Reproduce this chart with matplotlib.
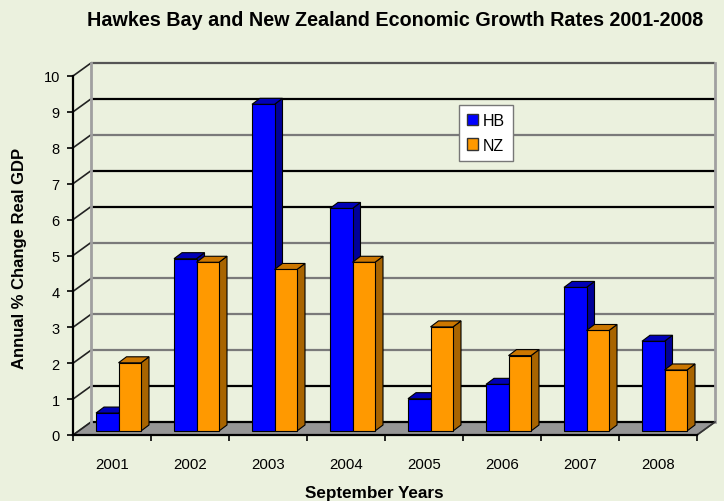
import matplotlib
matplotlib.use('Agg')
import matplotlib.pyplot as plt
from matplotlib.patches import Polygon, Patch
import numpy as np

# ------------------- DATA -------------------
years = ['2001', '2002', '2003', '2004', '2005', '2006', '2007', '2008']
hb = [0.5, 4.8, 9.1, 6.2, 0.9, 1.3, 4.0, 2.5]
nz = [1.9, 4.7, 4.5, 4.7, 2.9, 2.1, 2.8, 1.7]
yticks = list(range(0, 11))

# ------------------- STYLE -------------------
bg = '#EBF1DE'
face = {'HB': '#0000FF', 'NZ': '#FF9900'}
side = {'HB': '#000099', 'NZ': '#A86400'}
top = {'HB': '#0000B8', 'NZ': '#CC7700'}
grid_col = ['#000000', '#000000', '#7a7a7a', '#7a7a7a', '#7a7a7a', '#7a7a7a',
            '#000000', '#000000', '#7a7a7a', '#000000', '#555555']

plt.rcParams['font.family'] = ['Liberation Sans', 'DejaVu Sans']

W, H = 724, 502
fig = plt.figure(figsize=(W / 100, H / 100), dpi=100, facecolor=bg)
# front plane of the chart, pixel box of the value axis
x0, x1, yb, yt = 73, 697, 436, 77
ax = fig.add_axes([x0 / W, (H - yb) / H, (x1 - x0) / W, (yb - yt) / H])
ax.set_facecolor('none')
n = len(years)
ax.set_xlim(-0.5, n - 0.5)
ax.set_ylim(0, 10)

px_x = (x1 - x0) / n        # pixels per category
px_y = (yb - yt) / 10.0     # pixels per unit

# depth of the floor/walls and of each bar, in data units
DX, DY = 18 / px_x, 13 / px_y
bdx, bdy = 8 / px_x, 6 / px_y
base = 4 / px_y
shift = 6.5 / px_x
w = 22.5 / px_x

# floor
floor = Polygon([(-0.5, 0), (n - 0.5, 0), (n - 0.5 + DX, DY), (-0.5 + DX, DY)],
                closed=True, facecolor='#969696', edgecolor='#555555', lw=1,
                clip_on=False, zorder=1)
ax.add_patch(floor)

# back wall gridlines and left wall diagonals
for v in yticks:
    ax.plot([-0.5 + DX, n - 0.5 + DX], [v + DY, v + DY], color=grid_col[v],
            lw=1.6, clip_on=False, zorder=2, solid_capstyle='butt')
    ax.plot([-0.5, -0.5 + DX], [v, v + DY], color='#222222', lw=1.2,
            clip_on=False, zorder=2)
ax.plot([-0.5 + DX, -0.5 + DX], [DY, 10 + DY], color='#a0a0a0', lw=2,
        clip_on=False, zorder=2)
ax.plot([n - 0.5 + DX, n - 0.5 + DX], [DY, 10 + DY], color='#a0a0a0', lw=2,
        clip_on=False, zorder=2)
ax.plot([n - 0.5, n - 0.5 + DX], [0, DY], color='#333333', lw=1.2,
        clip_on=False, zorder=2)

# bars: front faces via ax.bar, then side and top faces
hb_bars = ax.bar(np.arange(n) + shift - w, hb, width=w, bottom=base, align='edge',
                 color=face['HB'], edgecolor='black', lw=0.8, label='HB')
nz_bars = ax.bar(np.arange(n) + shift, nz, width=w, bottom=base, align='edge',
                 color=face['NZ'], edgecolor='black', lw=0.8, label='NZ')

for i in range(n):
    for k, (name, bars, vals) in enumerate([('HB', hb_bars, hb), ('NZ', nz_bars, nz)]):
        z = 3 + i * 4 + k * 2
        r = bars[i]
        xl = r.get_x()
        xr = xl + r.get_width()
        yl = base
        yh = base + vals[i]
        r.set_zorder(z + 1)
        s = Polygon([(xr, yl), (xr + bdx, yl + bdy), (xr + bdx, yh + bdy), (xr, yh)],
                    closed=True, facecolor=side[name], edgecolor='black', lw=0.8,
                    zorder=z)
        t = Polygon([(xl, yh), (xr, yh), (xr + bdx, yh + bdy), (xl + bdx, yh + bdy)],
                    closed=True, facecolor=top[name], edgecolor='black', lw=0.8,
                    zorder=z + 1)
        ax.add_patch(s)
        ax.add_patch(t)

# axes
for sp in ['top', 'right']:
    ax.spines[sp].set_visible(False)
for sp in ['left', 'bottom']:
    ax.spines[sp].set_color('black')
    ax.spines[sp].set_linewidth(1.6)
    ax.spines[sp].set_zorder(60)

ax.set_yticks(yticks)
ax.set_yticklabels([str(v) for v in yticks])
ax.tick_params(axis='y', direction='out', length=4.5, width=1.2, pad=5,
               labelsize=10.5, colors='black')
ax.set_xticks(np.arange(n))
ax.set_xticklabels(years)
ax.set_xticks(np.arange(n + 1) - 0.5, minor=True)
ax.tick_params(axis='x', which='major', length=0, pad=16, labelsize=10.8)
ax.tick_params(axis='x', which='minor', direction='out', length=4, width=1.2)

leg = ax.legend(handles=[Patch(facecolor=face['HB'], edgecolor='#333333', label='HB'),
                         Patch(facecolor=face['NZ'], edgecolor='#333333', label='NZ')],
                loc='upper left', bbox_to_anchor=((459 - x0) / (x1 - x0), (yb - 106) / (yb - yt)),
                borderaxespad=0, fontsize=11.5, frameon=True, fancybox=False,
                handlelength=0.7, handleheight=0.7, handletextpad=0.3,
                labelspacing=0.6, borderpad=0.5)
leg.get_frame().set_edgecolor('#777777')
leg.get_frame().set_facecolor('white')
leg.get_frame().set_alpha(1)
leg.set_zorder(100)

fig.text(395 / W, 1 - 20 / H, 'Hawkes Bay and New Zealand Economic Growth Rates 2001-2008',
         ha='center', va='center', fontsize=14.2, fontweight='bold')
fig.text(20 / W, 1 - 258 / H, 'Annual % Change Real GDP', ha='center', va='center',
         rotation=90, fontsize=12, fontweight='bold')
fig.text(374 / W, 1 - 494 / H, 'September Years', ha='center', va='center',
         fontsize=12.3, fontweight='bold')

fig.savefig('out.png', dpi=100, facecolor=bg)
